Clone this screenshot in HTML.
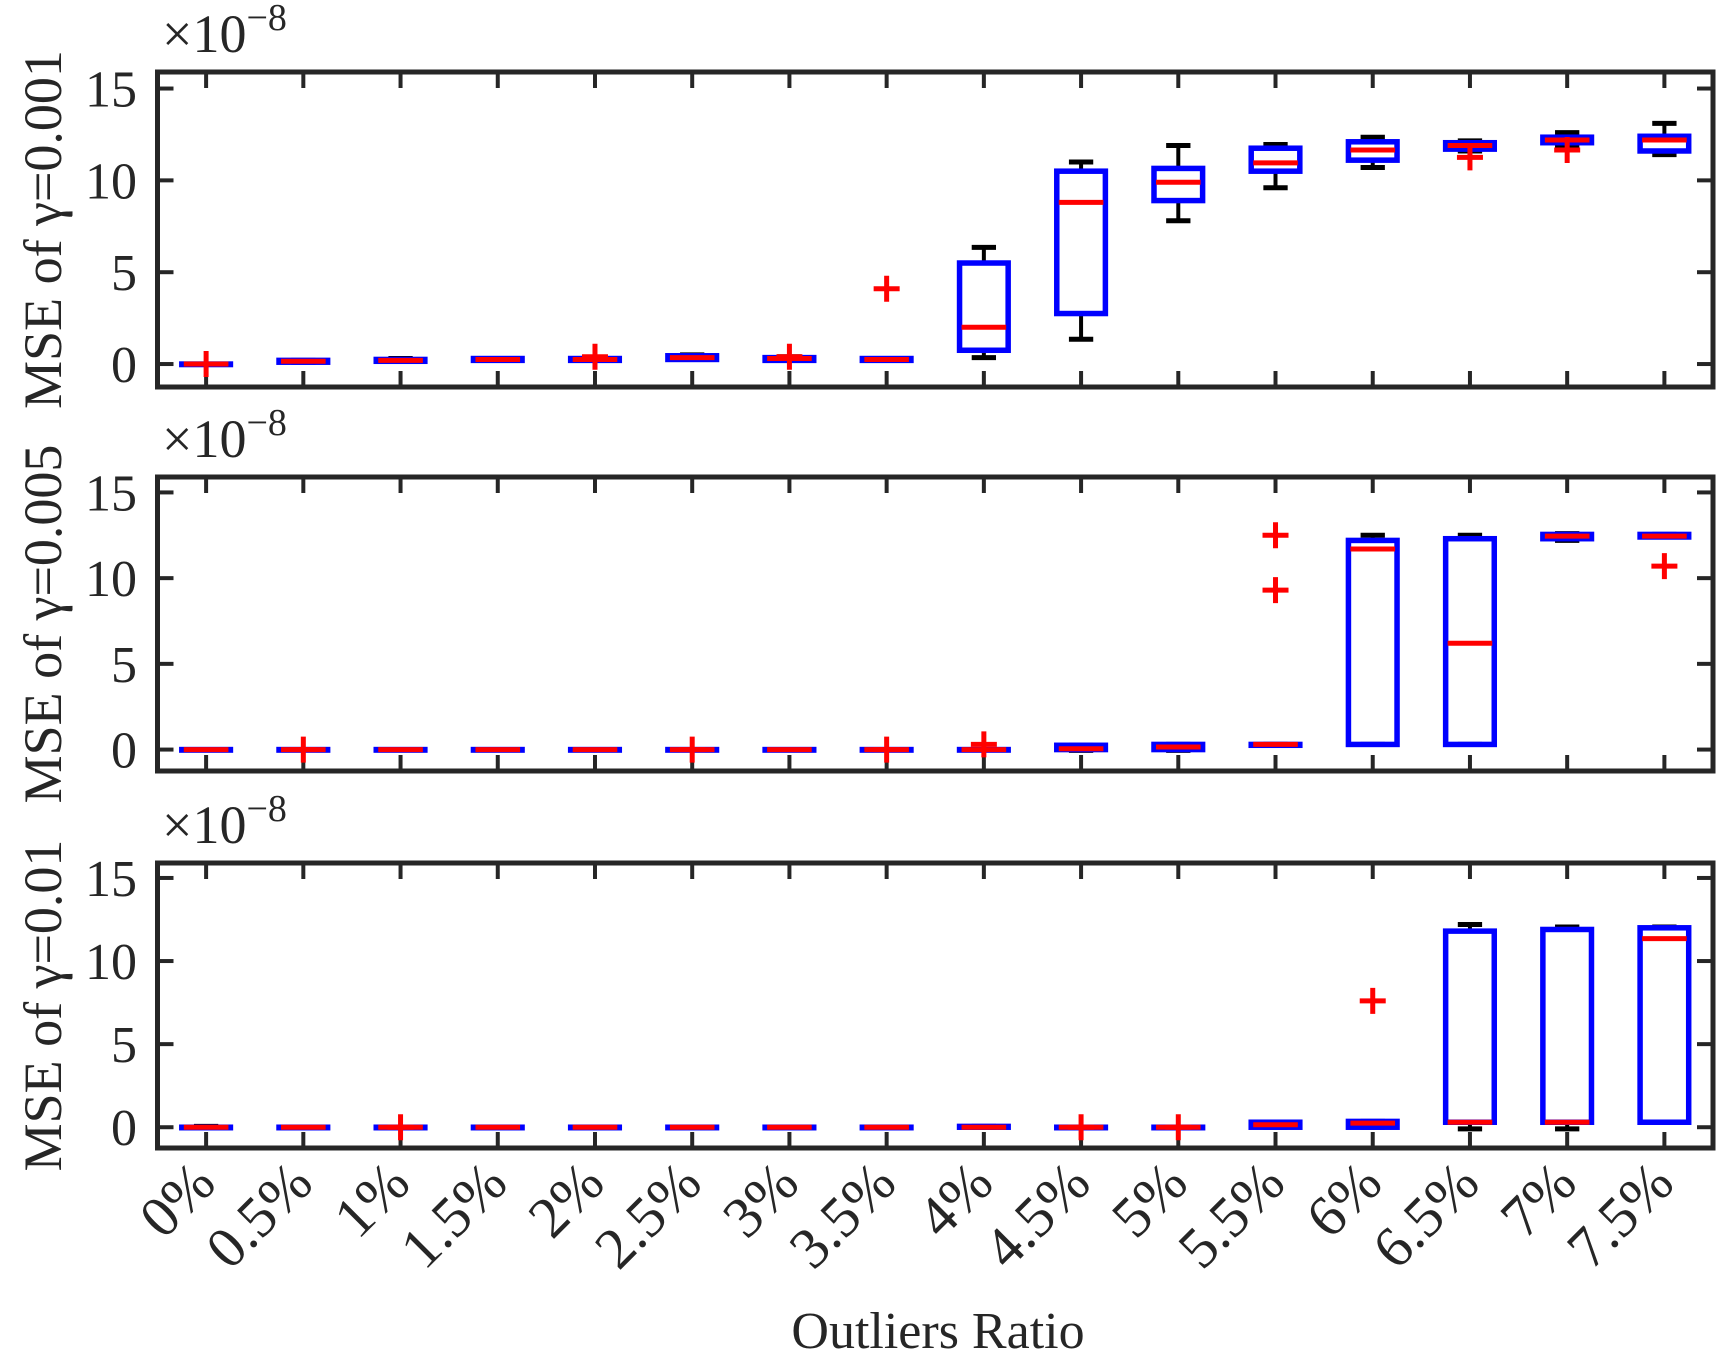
<!DOCTYPE html>
<html><head><meta charset="utf-8"><style>
html,body{margin:0;padding:0;background:#fff;}
svg{display:block;font-family:"Liberation Serif",serif;}
</style></head><body>
<svg id="chart" width="1734" height="1364" viewBox="0 0 1734 1364" xmlns="http://www.w3.org/2000/svg"></svg>
<script>
const categories = ["0%","0.5%","1%","1.5%","2%","2.5%","3%","3.5%","4%","4.5%","5%","5.5%","6%","6.5%","7%","7.5%"];
const yTicks = [0,5,10,15];
const panelTitles = ["MSE of \u03b3=0.001","MSE of \u03b3=0.005","MSE of \u03b3=0.01"];
// panel 1 (gamma=0.001)
const p1Low  = [0,0.1,0.15,0.2,0.2,0.25,0.2,0.2,0.35,1.35,7.8,9.6,10.7,11.6,11.9,11.4];
const p1Q1   = [0,0.1,0.15,0.2,0.2,0.25,0.2,0.2,0.75,2.75,8.9,10.5,11.1,11.7,12.05,11.6];
const p1Med  = [0,0.15,0.2,0.25,0.25,0.35,0.3,0.25,2.0,8.8,9.9,10.95,11.65,11.9,12.2,12.2];
const p1Q3   = [0,0.2,0.25,0.3,0.3,0.45,0.35,0.3,5.5,10.5,10.65,11.75,12.1,12.05,12.35,12.4];
const p1High = [0,0.2,0.3,0.3,0.35,0.5,0.4,0.3,6.35,11.0,11.9,11.95,12.35,12.15,12.6,13.1];
const p1OutCat = [0,4,6,7,13,14];
const p1OutVal = [0,0.4,0.4,4.1,11.25,11.65];
// panel 2 (gamma=0.005)
const p2Low  = [0,0,0,0,0,0,0,0,0,-0.05,-0.05,0.25,0.3,0.3,12.2,12.4];
const p2Q1   = [0,0,0,0,0,0,0,0,0,0,0,0.25,0.3,0.3,12.3,12.4];
const p2Med  = [0,0,0,0,0,0,0,0,0,0.05,0.15,0.3,11.7,6.2,12.45,12.45];
const p2Q3   = [0,0,0,0,0,0,0,0,0,0.25,0.3,0.3,12.2,12.3,12.55,12.55];
const p2High = [0,0,0,0,0,0,0,0,0,0.25,0.3,0.3,12.5,12.5,12.6,12.55];
const p2OutCat = [1,5,7,8,11,11,15];
const p2OutVal = [0,0,0,0.3,12.5,9.3,10.7];
// panel 3 (gamma=0.01)
const p3Low  = [0,0,0,0,0,0,0,0,0,0,0,0,0,-0.1,-0.1,0.3];
const p3Q1   = [0,0,0,0,0,0,0,0,0,0,0,0,0,0.3,0.3,0.3];
const p3Med  = [0,0,0,0,0,0,0,0,0,0,0,0.15,0.25,0.3,0.3,11.35];
const p3Q3   = [0,0,0,0,0,0,0,0,0.05,0,0,0.3,0.35,11.8,11.9,12.0];
const p3High = [0.05,0,0,0,0,0,0,0,0.05,0,0,0.3,0.35,12.2,12.05,12.05];
const p3OutCat = [2,9,10,12];
const p3OutVal = [0,0,0,7.6];

const NS="http://www.w3.org/2000/svg";
const svg=document.getElementById('chart');
function mk(tag,attrs,parent){const e=document.createElementNS(NS,tag);for(const k in attrs)e.setAttribute(k,attrs[k]);(parent||svg).appendChild(e);return e;}
const L=157.5,R=1713,XMIN=0.5,XMAX=16.5,YMIN=-1.25,YMAX=15.9;
function xs(i){return L+(i+1-XMIN)/(XMAX-XMIN)*(R-L);}
const panels=[
 {top:72,bot:387,low:p1Low,q1:p1Q1,med:p1Med,q3:p1Q3,high:p1High,oc:p1OutCat,ov:p1OutVal,exp:52},
 {top:477,bot:771,low:p2Low,q1:p2Q1,med:p2Med,q3:p2Q3,high:p2High,oc:p2OutCat,ov:p2OutVal,exp:457},
 {top:863,bot:1148,low:p3Low,q1:p3Q1,med:p3Med,q3:p3Q3,high:p3High,oc:p3OutCat,ov:p3OutVal,exp:843}
];
const AX='#262626';
const step=(R-L)/(XMAX-XMIN);
const bw=step*0.5, cw=step*0.25;
panels.forEach((p,pi)=>{
  const g=mk('g',{});
  
  
  const ys=v=>p.bot-(v-YMIN)/(YMAX-YMIN)*(p.bot-p.top);
  yTicks.forEach(t=>{
    const y=ys(t);
    const tl=mk('line',{x1:L,x2:L+16,y1:y,y2:y,stroke:AX,'stroke-width':4},g);
    
    
    mk('line',{x1:R-16,x2:R,y1:y,y2:y,stroke:AX,'stroke-width':4},g);
    const tx=mk('text',{x:137,y:y+18,'text-anchor':'end','font-size':52,fill:AX},g);
    tx.textContent=t;
    
    
  });
  categories.forEach((c,i)=>{
    const x=xs(i);
    mk('line',{x1:x,x2:x,y1:p.top,y2:p.top+16,stroke:AX,'stroke-width':4},g);
    const bt=mk('line',{x1:x,x2:x,y1:p.bot-16,y2:p.bot,stroke:AX,'stroke-width':4},g);
    
    
  });
  categories.forEach((c,i)=>{
    const x=xs(i);
    const bg=mk('g',{},g);
    
    
    mk('line',{x1:x,x2:x,y1:ys(p.high[i]),y2:ys(p.q3[i]),stroke:'#000','stroke-width':4},bg);
    mk('line',{x1:x,x2:x,y1:ys(p.q1[i]),y2:ys(p.low[i]),stroke:'#000','stroke-width':4},bg);
    mk('line',{x1:x-cw/2,x2:x+cw/2,y1:ys(p.high[i]),y2:ys(p.high[i]),stroke:'#000','stroke-width':5},bg);
    mk('line',{x1:x-cw/2,x2:x+cw/2,y1:ys(p.low[i]),y2:ys(p.low[i]),stroke:'#000','stroke-width':5},bg);
    const y3=ys(p.q3[i]),y1=ys(p.q1[i]);
    mk('rect',{x:x-bw/2,y:y3,width:bw,height:Math.max(0.5,y1-y3),fill:'none',stroke:'#0000ff','stroke-width':5.5},bg);
    mk('line',{x1:x-bw/2+2,x2:x+bw/2-2,y1:ys(p.med[i]),y2:ys(p.med[i]),stroke:'#ff0000','stroke-width':5},bg);
  });
  p.oc.forEach((ci,k)=>{
    const x=xs(ci),y=ys(p.ov[k]);
    const o=mk('path',{d:`M${x-13} ${y}H${x+13}M${x} ${y-13}V${y+13}`,stroke:'#ff0000','stroke-width':5,fill:'none'},g);
    
    
  });
  const fr=mk('rect',{x:L,y:p.top,width:R-L,height:p.bot-p.top,fill:'none',stroke:AX,'stroke-width':5},g);
  
  
  const ex=mk('text',{x:162,y:p.exp,'font-size':54,fill:AX},g);
  
  
  ex.innerHTML='×10<tspan dy="-22" font-size="38">−8</tspan>';
  const cy=(p.top+p.bot)/2;
  const yl=mk('text',{x:0,y:0,transform:`translate(61 ${cy}) rotate(-90)`,'text-anchor':'middle','font-size':54,fill:AX},g);
  yl.textContent=panelTitles[pi];
  
  
});
categories.forEach((c,i)=>{
  const x=xs(i)+12;
  const t=mk('text',{x:0,y:0,transform:`translate(${x} 1186) rotate(-45)`,'text-anchor':'end','font-size':58,fill:AX});
  t.textContent=c;
  
  
});
const xl=mk('text',{x:938,y:1348,'text-anchor':'middle','font-size':52,fill:AX});
xl.textContent='Outliers Ratio';


</script>
</body></html>
